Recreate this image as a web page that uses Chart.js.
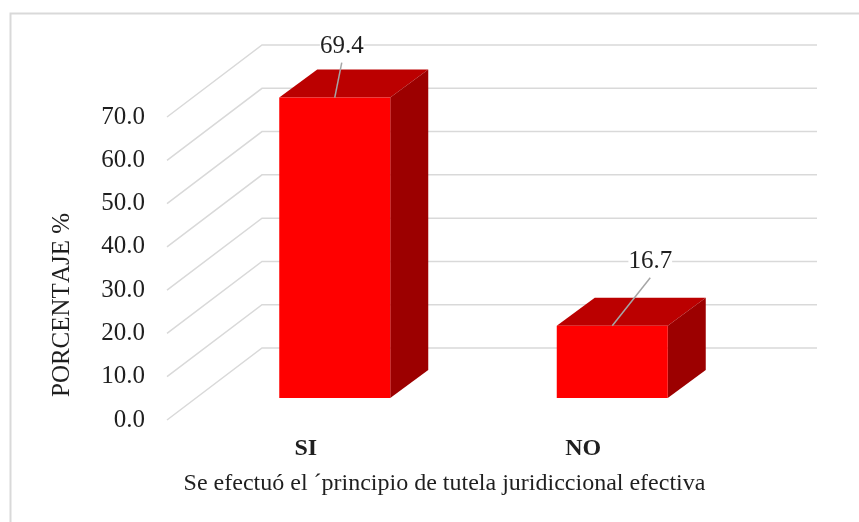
<!DOCTYPE html>
<html>
<head>
<meta charset="utf-8">
<title>Tutela juridiccional efectiva</title>
<script src="https://cdn.jsdelivr.net/npm/chart.js@4"></script>
<style>
    html, body { margin: 0; padding: 0; background: #fff; }
    #wrap { width: 859px; height: 522px; }
</style>
</head>
<body>
<div id="wrap"><canvas id="chart" width="859" height="522"></canvas></div>
<script>
const categories = ['SI', 'NO'];
const porcentajes = [69.4, 16.7];
const yTicks = [0, 10, 20, 30, 40, 50, 60, 70];
const yTitle = 'PORCENTAJE %';
const xTitle = 'Se efectuó el ´principio de tutela juridiccional efectiva';

const serif = "'Liberation Serif', 'Times New Roman', serif";
const gridColor = '#d9d9d9';
const textColor = '#1f1f1f';

// fake 3D: floor depth, and how far the bars sit in it
const wall = { dx: 95, dy: 72 };
const barShift = { dx: 29, dy: 22 };
const barDepth = { dx: 38, dy: 28 };
// end of the leader line, measured from the middle of the bar's top edge
const leaders = [{ dx: 7, dy: -35 }, { dx: 38, dy: -48 }];

function poly(ctx, color, pts) {
    ctx.fillStyle = color;
    ctx.beginPath();
    pts.forEach((p, i) => i ? ctx.lineTo(p[0], p[1]) : ctx.moveTo(p[0], p[1]));
    ctx.closePath();
    ctx.fill();
}

const wallPlugin = {
    id: 'wall',
    beforeDatasetsDraw(chart) {
        const { ctx, chartArea, scales } = chart;
        ctx.save();
        ctx.strokeStyle = gridColor;
        ctx.lineWidth = 2;
        ctx.beginPath();
        ctx.moveTo(10.5, 522);
        ctx.lineTo(10.5, 13.5);
        ctx.lineTo(859, 13.5);
        ctx.stroke();

        ctx.lineWidth = 1.5;
        yTicks.forEach(v => {
            const y = scales.y.getPixelForValue(v);
            ctx.beginPath();
            ctx.moveTo(chartArea.left, y);
            ctx.lineTo(chartArea.left + wall.dx, y - wall.dy);
            ctx.lineTo(chartArea.right + wall.dx, y - wall.dy);
            ctx.stroke();
        });

        ctx.fillStyle = textColor;
        ctx.font = '25px ' + serif;
        ctx.fontKerning = 'none';
        ctx.textAlign = 'center';
        ctx.textBaseline = 'middle';
        ctx.translate(62, 305);
        ctx.rotate(-Math.PI / 2);
        ctx.fillText(yTitle, 0, 0);
        ctx.restore();

        // the library draws the bars inside this shifted context
        ctx.save();
        ctx.translate(barShift.dx, -barShift.dy);
        chart.getDatasetMeta(0).data.forEach(bar => {
            const l = bar.x - bar.width / 2;
            const r = bar.x + bar.width / 2;
            const d = barDepth;
            poly(ctx, '#bb0000', [[l, bar.y], [l + d.dx, bar.y - d.dy], [r + d.dx, bar.y - d.dy], [r, bar.y]]);
            poly(ctx, '#9c0000', [[r, bar.y], [r + d.dx, bar.y - d.dy], [r + d.dx, bar.base - d.dy], [r, bar.base]]);
        });
    },
    afterDatasetsDraw(chart) {
        const { ctx } = chart;
        ctx.restore();

        ctx.save();
        ctx.font = '25px ' + serif;
        ctx.textAlign = 'center';
        ctx.textBaseline = 'bottom';
        chart.getDatasetMeta(0).data.forEach((bar, i) => {
            const x = bar.x + barShift.dx;
            const y = bar.y - barShift.dy;
            const end = leaders[i];
            ctx.strokeStyle = '#a6a6a6';
            ctx.lineWidth = 1.5;
            ctx.beginPath();
            ctx.moveTo(x, y);
            ctx.lineTo(x + end.dx, y + end.dy);
            ctx.stroke();

            const text = porcentajes[i].toFixed(1);
            const w = ctx.measureText(text).width;
            ctx.fillStyle = '#fff';
            ctx.fillRect(x + end.dx - w / 2, y + end.dy - 27, w, 23);
            ctx.fillStyle = textColor;
            ctx.fillText(text, x + end.dx, y + end.dy - 4);
        });
        ctx.restore();
    }
};

new Chart(document.getElementById('chart'), {
    type: 'bar',
    data: {
        labels: categories,
        datasets: [{
            data: porcentajes,
            backgroundColor: '#ff0000',
            borderWidth: 0,
            barPercentage: 0.4,
            categoryPercentage: 1,
            clip: false
        }]
    },
    options: {
        responsive: false,
        animation: false,
        layout: { padding: { top: 117, right: 137, bottom: 20 } },
        plugins: {
            legend: { display: false },
            tooltip: { enabled: false }
        },
        scales: {
            x: {
                afterFit(scale) { scale.height = 82; },
                grid: { display: false },
                border: { display: false },
                ticks: {
                    color: textColor,
                    padding: 6,
                    font: { family: serif, size: 24, weight: 'bold' }
                },
                title: {
                    display: true,
                    text: xTitle,
                    color: textColor,
                    padding: { top: 4 },
                    font: { family: serif, size: 24 }
                }
            },
            y: {
                min: 0,
                max: 70,
                afterFit(scale) { scale.width = 167; },
                afterBuildTicks(scale) { scale.ticks = yTicks.map(value => ({ value })); },
                grid: { display: false },
                border: { display: false },
                ticks: {
                    color: textColor,
                    padding: 14,
                    font: { family: serif, size: 25 },
                    callback: value => value.toFixed(1)
                }
            }
        }
    },
    plugins: [wallPlugin]
});
</script>
</body>
</html>
